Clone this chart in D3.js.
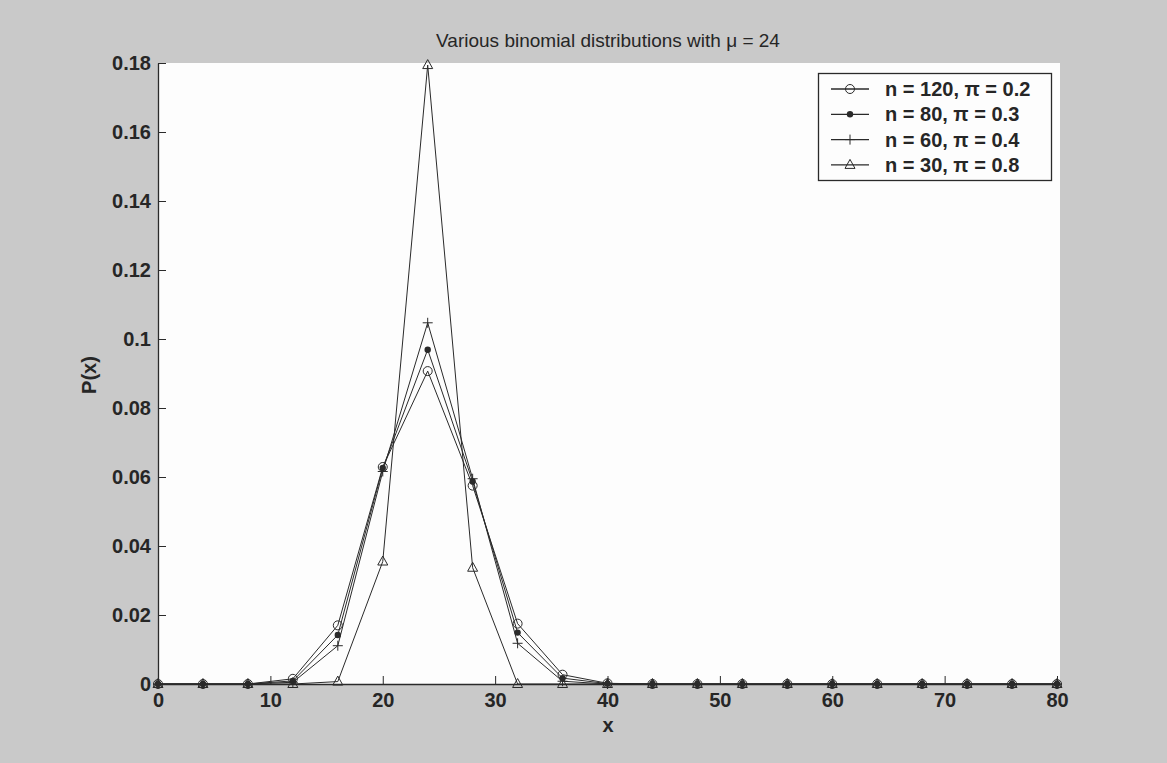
<!DOCTYPE html>
<html>
<head>
<meta charset="utf-8">
<script src="https://cdn.jsdelivr.net/npm/d3@7"></script>
<style>
  html, body { margin: 0; padding: 0; background: #c9c9c9; }
  svg { display: block; }
  text { font-family: "Liberation Sans", Arial, sans-serif; fill: #262626; }
</style>
</head>
<body>
<svg id="chart" width="1167" height="763"></svg>
<script>
// x positions (number of successes), sampled every 4
const xValues = [0, 4, 8, 12, 16, 20, 24, 28, 32, 36, 40, 44, 48, 52, 56, 60, 64, 68, 72, 76, 80];

// P(x) for each binomial distribution
const n120p02 = [0, 0, 0, 0.0015, 0.0170, 0.0629, 0.0907, 0.0575, 0.0175, 0.0027, 0.0002, 0, 0, 0, 0, 0, 0, 0, 0, 0, 0];
const n80p03  = [0, 0, 0, 0.0009, 0.0142, 0.0626, 0.0969, 0.0587, 0.0149, 0.0017, 0.0001, 0, 0, 0, 0, 0, 0, 0, 0, 0, 0];
const n60p04  = [0, 0, 0, 0.0005, 0.0111, 0.0616, 0.1047, 0.0595, 0.0118, 0.0008, 0, 0, 0, 0, 0, 0, 0, 0, 0, 0, 0];
const n30p08  = [0, 0, 0, 0, 0.0007, 0.0355, 0.1794, 0.0337, 0, 0, 0, 0, 0, 0, 0, 0, 0, 0, 0, 0, 0];

const seriesNames = ["n = 120, \u03c0 = 0.2", "n = 80, \u03c0 = 0.3", "n = 60, \u03c0 = 0.4", "n = 30, \u03c0 = 0.8"];
const seriesMarkers = ["circle", "dot", "plus", "triangle"];
const seriesValues = [n120p02, n80p03, n60p04, n30p08];

const xTicks = [0, 10, 20, 30, 40, 50, 60, 70, 80];
const yTicks = [0, 0.02, 0.04, 0.06, 0.08, 0.1, 0.12, 0.14, 0.16, 0.18];

const titleText = "Various binomial distributions with \u03bc = 24";
const xLabel = "x";
const yLabel = "P(x)";

const svg = d3.select("#chart");
const plot = { left: 158, right: 1058, top: 63, bottom: 684 };
const ink = "#2a2a2a";

const x = d3.scaleLinear().domain([0, 80]).range([plot.left, plot.right - 1]);
const y = d3.scaleLinear().domain([0, 0.18]).range([plot.bottom, plot.top]);

// white plotting area
svg.append("rect")
  .attr("x", plot.left).attr("y", plot.top)
  .attr("width", plot.right - plot.left + 2).attr("height", plot.bottom - plot.top)
  .attr("fill", "#fdfdfd");

// axes with inward ticks
const fmtY = d => d === 0 ? "0" : String(+d.toFixed(2));
const yAxis = svg.append("g")
  .attr("transform", `translate(${plot.left},0)`)
  .call(d3.axisLeft(y).tickValues(yTicks).tickFormat(fmtY).tickSizeInner(-8).tickSizeOuter(0).tickPadding(7));
const xAxis = svg.append("g")
  .attr("transform", `translate(0,${plot.bottom})`)
  .call(d3.axisBottom(x).tickValues(xTicks).tickFormat(d3.format("d")).tickSizeInner(-8).tickSizeOuter(0).tickPadding(9));

[xAxis, yAxis].forEach(g => {
  g.select(".domain").attr("stroke", ink).attr("stroke-width", 1.3);
  g.selectAll(".tick line").attr("stroke", ink).attr("stroke-width", 1);
  g.selectAll(".tick text").attr("font-size", 20).attr("font-weight", "bold").attr("fill", "#2e2e2e")
    .attr("font-family", "'Liberation Sans', Arial, sans-serif");
});

// marker drawing
function drawMarker(g, type, cx, cy) {
  if (type === "circle") {
    g.append("circle").attr("cx", cx).attr("cy", cy).attr("r", 4.5)
      .attr("fill", "none").attr("stroke", ink).attr("stroke-width", 1);
  } else if (type === "dot") {
    g.append("circle").attr("cx", cx).attr("cy", cy).attr("r", 3.2)
      .attr("fill", ink).attr("stroke", "none");
  } else if (type === "plus") {
    g.append("path").attr("d", `M${cx - 5},${cy}H${cx + 5}M${cx},${cy - 5}V${cy + 5}`)
      .attr("stroke", ink).attr("stroke-width", 1).attr("fill", "none");
  } else if (type === "triangle") {
    g.append("path").attr("d", `M${cx},${cy - 5.5}L${cx + 5},${cy + 3.5}L${cx - 5},${cy + 3.5}Z`)
      .attr("stroke", ink).attr("stroke-width", 1).attr("fill", "none");
  }
}

const line = d3.line().x(d => x(d[0])).y(d => y(d[1]));

seriesValues.forEach((vals, i) => {
  const pts = xValues.map((xv, j) => [xv, vals[j]]);
  const g = svg.append("g").attr("class", "series");
  g.append("path").datum(pts).attr("d", line)
    .attr("fill", "none").attr("stroke", ink).attr("stroke-width", 1);
  pts.forEach(p => drawMarker(g, seriesMarkers[i], x(p[0]), y(p[1])));
});

// title and axis labels
svg.append("text").attr("x", (plot.left + plot.right) / 2).attr("y", 47)
  .attr("text-anchor", "middle").attr("font-size", 19)
  .attr("fill", "#2a2a2a").text(titleText);
svg.append("text").attr("x", (plot.left + plot.right) / 2).attr("y", 732)
  .attr("text-anchor", "middle").attr("font-size", 20).attr("font-weight", "bold").text(xLabel);
svg.append("text").attr("transform", "translate(96,375) rotate(-90)")
  .attr("text-anchor", "middle").attr("font-size", 20).attr("font-weight", "bold").text(yLabel);

// legend
const legend = svg.append("g");
legend.append("rect").attr("x", 818.5).attr("y", 73.5).attr("width", 233).attr("height", 107)
  .attr("fill", "#fdfdfd").attr("stroke", ink).attr("stroke-width", 1.3);
seriesNames.forEach((name, i) => {
  const cy = 89 + i * 25.3;
  legend.append("path").attr("d", `M831,${cy}H869`).attr("stroke", ink).attr("stroke-width", 1.3);
  drawMarker(legend, seriesMarkers[i], 850, cy);
  legend.append("text").attr("x", 885).attr("y", cy + 7).attr("font-size", 20)
    .attr("font-weight", "bold").text(name);
});
</script>
</body>
</html>
